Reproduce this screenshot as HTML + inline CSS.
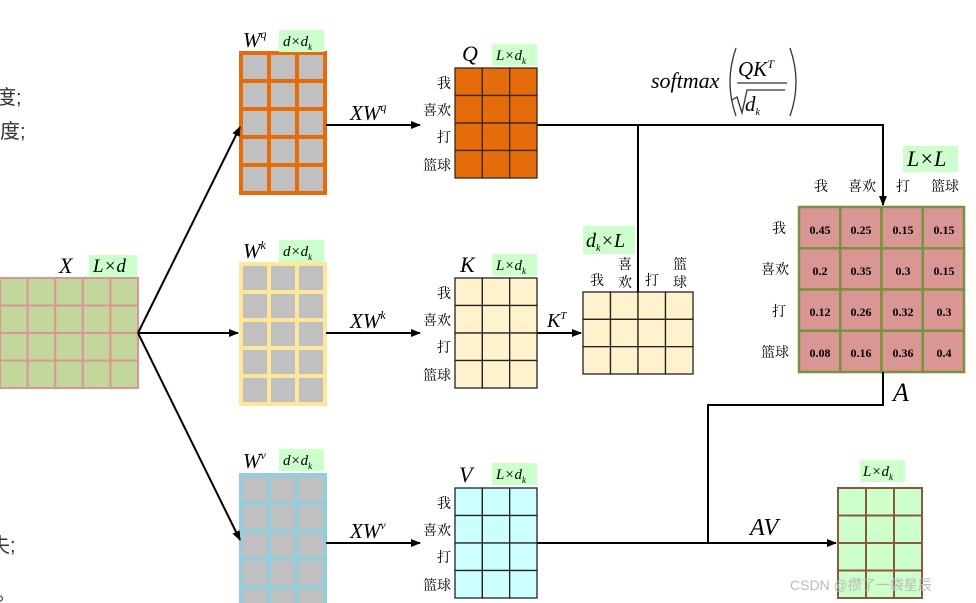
<!DOCTYPE html>
<html><head><meta charset="utf-8"><style>
html,body{margin:0;padding:0;background:#fff;}
svg{display:block;}
.it{font-family:"Liberation Serif",serif;font-style:italic;}
.cn{font-family:"Liberation Serif","Noto Serif CJK SC",serif;font-size:14px;fill:#000;}
.v{font-family:"Liberation Serif",serif;font-weight:bold;font-size:12px;text-anchor:middle;}
</style></head><body>
<svg id="s" width="976" height="603" viewBox="0 0 976 603" xmlns="http://www.w3.org/2000/svg">
<defs><marker id="ar" markerWidth="10" markerHeight="8" refX="9" refY="4" orient="auto" markerUnits="userSpaceOnUse"><path d="M0,0 L10,4 L0,8 Z" fill="#000"/></marker></defs>
<g id="grids"></g>
<!-- connectors -->
<g stroke="#000" stroke-width="2" fill="none">
<line x1="138" y1="333" x2="240" y2="127" marker-end="url(#ar)"/>
<line x1="138" y1="333" x2="238" y2="333" marker-end="url(#ar)"/>
<line x1="138" y1="333" x2="240" y2="540" marker-end="url(#ar)"/>
<line x1="326" y1="125" x2="420" y2="125" marker-end="url(#ar)"/>
<line x1="326" y1="333" x2="420" y2="333" marker-end="url(#ar)"/>
<line x1="326" y1="543" x2="420" y2="543" marker-end="url(#ar)"/>
<polyline points="537,125 883,125 883,205" marker-end="url(#ar)"/>
<line x1="638" y1="125" x2="638" y2="292"/>
<line x1="537" y1="333" x2="581" y2="333" marker-end="url(#ar)"/>
<line x1="537" y1="543" x2="836" y2="543" marker-end="url(#ar)"/>
<polyline points="883,372 883,405 708,405 708,543"/>
</g>
<!-- left partial text -->
<g font-family="'Liberation Sans','Noto Sans CJK SC',sans-serif" font-size="20" fill="#333">
<text x="-4" y="104">度;</text><text x="0" y="138">度;</text>
<text x="-10" y="552">失;</text><text x="-4" y="600">。</text>
</g>
<!-- label boxes -->
<g fill="#CCFFCC">
<rect x="279" y="30" width="45" height="22"/><rect x="279" y="240" width="45" height="22"/><rect x="279" y="449" width="45" height="22"/>
<rect x="492" y="44" width="45" height="22"/><rect x="492" y="254" width="45" height="22"/><rect x="492" y="463" width="45" height="22"/>
<rect x="89" y="255" width="48" height="22"/><rect x="583" y="226" width="52" height="28"/><rect x="903" y="146" width="55" height="26"/>
<rect x="860" y="460" width="45" height="22"/>
</g>
<g class="it" fill="#000">
<text x="243" y="47" font-size="21">W<tspan font-size="12" dy="-9">q</tspan></text>
<text x="243" y="258" font-size="21">W<tspan font-size="12" dy="-9">k</tspan></text>
<text x="243" y="468" font-size="21">W<tspan font-size="12" dy="-9">v</tspan></text>
<text x="283" y="46" font-size="15">d×d<tspan font-size="9" dy="4">k</tspan></text>
<text x="283" y="256" font-size="15">d×d<tspan font-size="9" dy="4">k</tspan></text>
<text x="283" y="465" font-size="15">d×d<tspan font-size="9" dy="4">k</tspan></text>
<text x="496" y="60" font-size="15">L×d<tspan font-size="9" dy="4">k</tspan></text>
<text x="496" y="270" font-size="15">L×d<tspan font-size="9" dy="4">k</tspan></text>
<text x="496" y="479" font-size="15">L×d<tspan font-size="9" dy="4">k</tspan></text>
<text x="863" y="476" font-size="15">L×d<tspan font-size="9" dy="4">k</tspan></text>
<text x="93" y="272" font-size="19">L×d</text>
<text x="59" y="273" font-size="22">X</text>
<text x="462" y="61" font-size="22">Q</text>
<text x="460" y="272" font-size="22">K</text>
<text x="459" y="482" font-size="22">V</text>
<text x="586" y="247" font-size="20">d<tspan font-size="10" dy="4">k</tspan><tspan dy="-4">×L</tspan></text>
<text x="907" y="166" font-size="22">L×L</text>
<text x="893" y="401" font-size="26">A</text>
<text x="750" y="535" font-size="24">AV</text>
<text x="350" y="120" font-size="21">XW<tspan font-size="12" dy="-9">q</tspan></text>
<text x="350" y="328" font-size="21">XW<tspan font-size="12" dy="-9">k</tspan></text>
<text x="350" y="538" font-size="21">XW<tspan font-size="12" dy="-9">v</tspan></text>
<text x="547" y="327" font-size="20">K<tspan font-size="11" dy="-8">T</tspan></text>
<text x="651" y="88" font-size="22">softmax</text>
<text x="738" y="76" font-size="21">QK<tspan font-size="12" dy="-8">T</tspan></text>
<text x="745" y="111" font-size="21">d<tspan font-size="10" dy="4">k</tspan></text>
</g>
<g stroke="#333" stroke-width="1.3" fill="none">
<path d="M736,48 Q724,82 736,116"/><path d="M790,48 Q802,82 790,116"/>
<line x1="737" y1="83" x2="787" y2="83"/>
<path d="M732,100 L737,97 L742,113 L747,90 L785,90"/>
</g>
<!-- CJK labels -->
<g class="cn" text-anchor="end">
<text x="451" y="88">我</text><text x="451" y="115">喜欢</text><text x="451" y="142">打</text><text x="451" y="170">篮球</text>
<text x="451" y="298">我</text><text x="451" y="325">喜欢</text><text x="451" y="352">打</text><text x="451" y="380">篮球</text>
<text x="451" y="508">我</text><text x="451" y="535">喜欢</text><text x="451" y="562">打</text><text x="451" y="590">篮球</text>
<text x="786" y="233">我</text><text x="789" y="274">喜欢</text><text x="786" y="316">打</text><text x="789" y="357">篮球</text>
</g>
<g class="cn" text-anchor="middle">
<text x="821" y="191">我</text><text x="862" y="191">喜欢</text><text x="903" y="191">打</text><text x="945" y="191">篮球</text>
<text x="597" y="285">我</text><text x="625" y="269">喜</text><text x="625" y="287">欢</text><text x="652" y="285">打</text><text x="680" y="269">篮</text><text x="680" y="287">球</text>
</g>
<g class="v">
<text x="820" y="234">0.45</text><text x="861" y="234">0.25</text><text x="903" y="234">0.15</text><text x="944" y="234">0.15</text>
<text x="820" y="275">0.2</text><text x="861" y="275">0.35</text><text x="903" y="275">0.3</text><text x="944" y="275">0.15</text>
<text x="820" y="316">0.12</text><text x="861" y="316">0.26</text><text x="903" y="316">0.32</text><text x="944" y="316">0.3</text>
<text x="820" y="357">0.08</text><text x="861" y="357">0.16</text><text x="903" y="357">0.36</text><text x="944" y="357">0.4</text>
</g>
<text x="790" y="590" font-family="'Liberation Sans','Noto Sans CJK SC',sans-serif" font-size="14" fill="#bbb">CSDN @攒了一袋星辰</text>
</svg>
<script>
var g=document.getElementById('grids'),ns='http://www.w3.org/2000/svg';
function r(x,y,w,h,f,s,sw){var e=document.createElementNS(ns,'rect');e.setAttribute('x',x);e.setAttribute('y',y);e.setAttribute('width',w);e.setAttribute('height',h);e.setAttribute('fill',f);e.setAttribute('stroke',s);e.setAttribute('stroke-width',sw);g.appendChild(e);}
function grid(x,y,w,h,c,rw,f,s,sw){var cw=w/c,rh=h/rw;for(var i=0;i<rw;i++)for(var j=0;j<c;j++)r(x+j*cw,y+i*rh,cw,rh,f,s,sw);}
grid(241,53,84,140,3,5,'#C0C0C0','#E46C0A',4);
grid(241,264,84,140,3,5,'#C0C0C0','#FFE699',4);
grid(241,475,84,140,3,5,'#C0C0C0','#93CDDD',4);
grid(0,278,138,110,5,4,'#C3D69B','#D99694',2);
grid(455,68,82,110,3,4,'#E46C0A','#3a2a1a',1.3);
grid(455,278,82,110,3,4,'#FFF2CC','#222',1.3);
grid(455,488,82,110,3,4,'#CCFFFF','#222',1.3);
grid(583,292,110,82,4,3,'#FFF2CC','#222',1.3);
grid(799,207,165,165,4,4,'#D99694','#77933C',2.5);
grid(838,488,84,110,3,4,'#CCFFCC','#8B5A3C',2);
</script>
</body></html>
